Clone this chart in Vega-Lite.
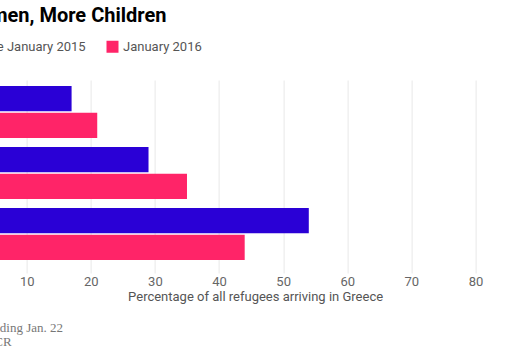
{
  "$schema": "https://vega.github.io/schema/vega-lite/v6.json",
  "width": 577,
  "height": 193,
  "autosize": {"type": "none"},
  "padding": {"left": -37.4, "top": 80, "right": -9.6, "bottom": 89},
  "title": {
    "text": "More Women, More Children",
    "anchor": "start",
    "frame": "group",
    "orient": "top",
    "offset": 14,
    "dx": -52.6,
    "font": "Roboto",
    "fontSize": 20,
    "fontWeight": "bold",
    "color": "#000000"
  },
  "data": {
    "values": [
      {"group": "Women", "period": "Average since January 2015", "pct": 17},
      {"group": "Women", "period": "January 2016", "pct": 21},
      {"group": "Children", "period": "Average since January 2015", "pct": 29},
      {"group": "Children", "period": "January 2016", "pct": 35},
      {"group": "Men", "period": "Average since January 2015", "pct": 54},
      {"group": "Men", "period": "January 2016", "pct": 44}
    ]
  },
  "mark": {"type": "bar"},
  "encoding": {
    "y": {
      "field": "group",
      "type": "nominal",
      "sort": ["Women", "Children", "Men"],
      "scale": {"paddingInner": 0.1475, "paddingOuter": 0.156, "align": 0.316},
      "axis": {
        "domain": false,
        "ticks": false,
        "labelFontSize": 13,
        "labelColor": "#555555",
        "title": ["Note: Week ending Jan. 22", "Source: UNHCR"],
        "titleAngle": 0,
        "titleAlign": "left",
        "titleBaseline": "alphabetic",
        "titleX": -40,
        "titleY": 251.5,
        "titleFont": "Liberation Serif",
        "titleFontSize": 13,
        "titleFontWeight": "normal",
        "titleColor": "#777777",
        "titleLineHeight": 14
      }
    },
    "yOffset": {
      "field": "period",
      "type": "nominal",
      "scale": {"paddingInner": 0.05, "paddingOuter": 0}
    },
    "x": {
      "field": "pct",
      "type": "quantitative",
      "scale": {"domain": [0, 90], "nice": false},
      "axis": {
        "values": [0, 10, 20, 30, 40, 50, 60, 70, 80],
        "grid": true,
        "gridColor": "#e8e8e8",
        "domain": false,
        "ticks": false,
        "labelFont": "Roboto",
        "labelFontSize": 13,
        "labelColor": "#666666",
        "labelPadding": 2,
        "title": "Percentage of all refugees arriving in Greece",
        "titleX": 292.5,
        "titleFont": "Roboto",
        "titleFontSize": 13,
        "titleFontWeight": "normal",
        "titleColor": "#555555",
        "titlePadding": 2
      }
    },
    "color": {
      "field": "period",
      "type": "nominal",
      "scale": {"domain": ["Average since January 2015", "January 2016"], "range": ["#2a00d6", "#ff2468"]},
      "legend": {
        "title": null,
        "orient": "none",
        "direction": "horizontal",
        "legendX": -56.6,
        "legendY": -40,
        "symbolType": "square",
        "symbolSize": 144,
        "symbolStrokeWidth": 0,
        "symbolOpacity": 1,
        "labelFont": "Roboto",
        "labelFontSize": 13,
        "labelColor": "#555555",
        "labelOffset": 4,
        "labelLimit": 0,
        "columnPadding": 20
      }
    }
  },
  "config": {"view": {"stroke": null}, "font": "Roboto"}
}
